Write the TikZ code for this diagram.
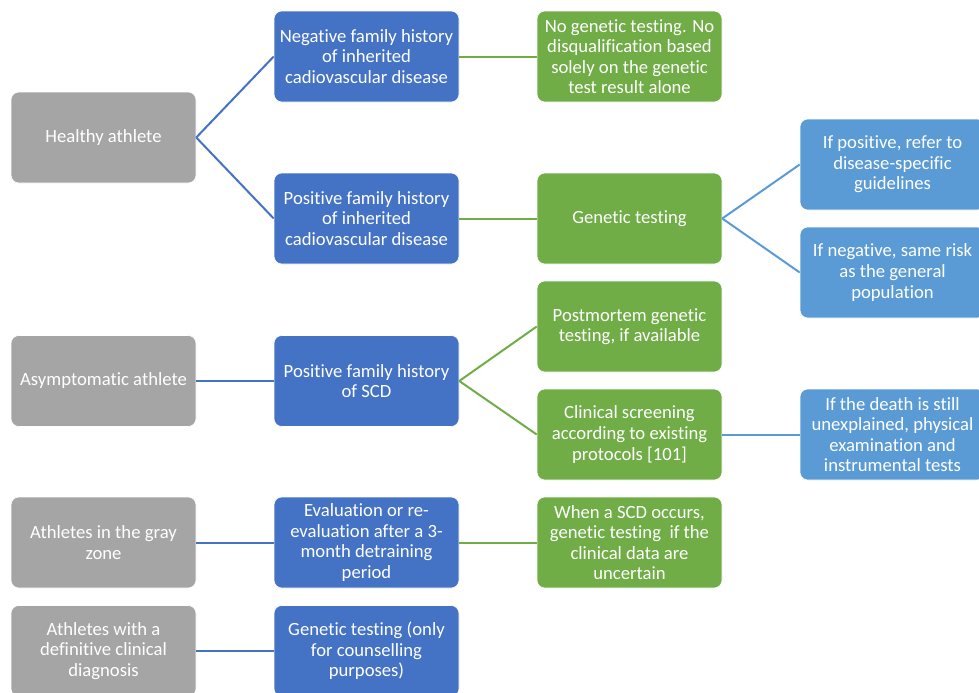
\documentclass[tikz,border=0pt]{standalone}
\usepackage{fontspec}
\setmainfont[RawFeature={-liga;-clig;-dlig;-calt}]{Carlito}
\usepackage{tikz}
\usetikzlibrary{positioning}
\definecolor{boxgray}{HTML}{A5A5A5}
\definecolor{boxblue}{HTML}{4472C4}
\definecolor{boxgreen}{HTML}{70AD47}
\definecolor{boxlblue}{HTML}{5B9BD5}

\tikzset{
    box/.style={rounded corners=6pt, draw=white, line width=0.4pt, text=white, align=center,
        minimum width=138.75pt, minimum height=68.25pt, inner sep=1pt,
        font=\fontsize{14}{15.4}\selectfont},
    graybox/.style={box, fill=boxgray},
    bluebox/.style={box, fill=boxblue},
    greenbox/.style={box, fill=boxgreen},
    lbluebox/.style={box, fill=boxlblue},
    link/.style={line width=1.5pt}
}

\begin{document}
\begin{tikzpicture}[x=0.75pt, y=-0.75pt]
    \useasboundingbox (0,0) rectangle (979,693);
    \clip (0,0) rectangle (979,693);
    % Athletes
    \node [graybox] (healthy) at (103.5,137.5) {Healthy athlete};
    \node [graybox] (asympt) at (103.5,381) {Asymptomatic athlete};
    \node [graybox] (grayzone) at (103.5,542.5) {Athletes in the gray\\zone};
    \node [graybox] (definitive) at (103.5,651) {Athletes with a\\definitive clinical\\diagnosis};
    % Family history / evaluation
    \node [bluebox] (neghist) at (366.5,56.5) {Negative family history\\of inherited\\cadiovascular disease};
    \node [bluebox] (poshist) at (366.5,218.5) {Positive family history\\of inherited\\cadiovascular disease};
    \node [bluebox] (posscd) at (366.5,381) {Positive family history\\of SCD};
    \node [bluebox] (evaluation) at (366.5,542.5) {Evaluation or re-\\evaluation after a 3-\\month detraining\\period};
    \node [bluebox] (gentestonly) at (366.5,651) {Genetic testing (only\\for counselling\\purposes)};
    % Testing
    \node [greenbox] (nogentest) at (629.5,56.5) {No genetic testing. No\\disqualification based\\solely on the genetic\\test result alone};
    \node [greenbox] (gentest) at (629.5,218.5) {Genetic testing};
    \node [greenbox] (postmortem) at (629.5,326.5) {Postmortem genetic\\testing, if available};
    \node [greenbox] (screening) at (629.5,434.5) {Clinical screening\\according to existing\\protocols [101]};
    \node [greenbox] (whenscd) at (629.5,542.5) {When a SCD occurs,\\genetic testing\ \ if the\\clinical data are\\uncertain};
    % Outcomes
    \node [lbluebox] (ifpos) at (892.5,164.5) {If positive, refer to\\disease-specific\\guidelines};
    \node [lbluebox] (ifneg) at (892.5,272.5) {If negative, same risk\\as the general\\population};
    \node [lbluebox] (ifdeath) at (892.5,434.5) {If the death is still\\unexplained, physical\\examination and\\instrumental tests};

    % Links
    \foreach \a/\b in {healthy/neghist, healthy/poshist, asympt/posscd, grayzone/evaluation, definitive/gentestonly}
        \draw [link, boxblue] (\a.east) -- (\b.west);
    \foreach \a/\b in {neghist/nogentest, poshist/gentest, posscd/postmortem, posscd/screening, evaluation/whenscd}
        \draw [link, boxgreen] (\a.east) -- (\b.west);
    \foreach \a/\b in {gentest/ifpos, gentest/ifneg, screening/ifdeath}
        \draw [link, boxlblue] (\a.east) -- (\b.west);
\end{tikzpicture}
\end{document}
